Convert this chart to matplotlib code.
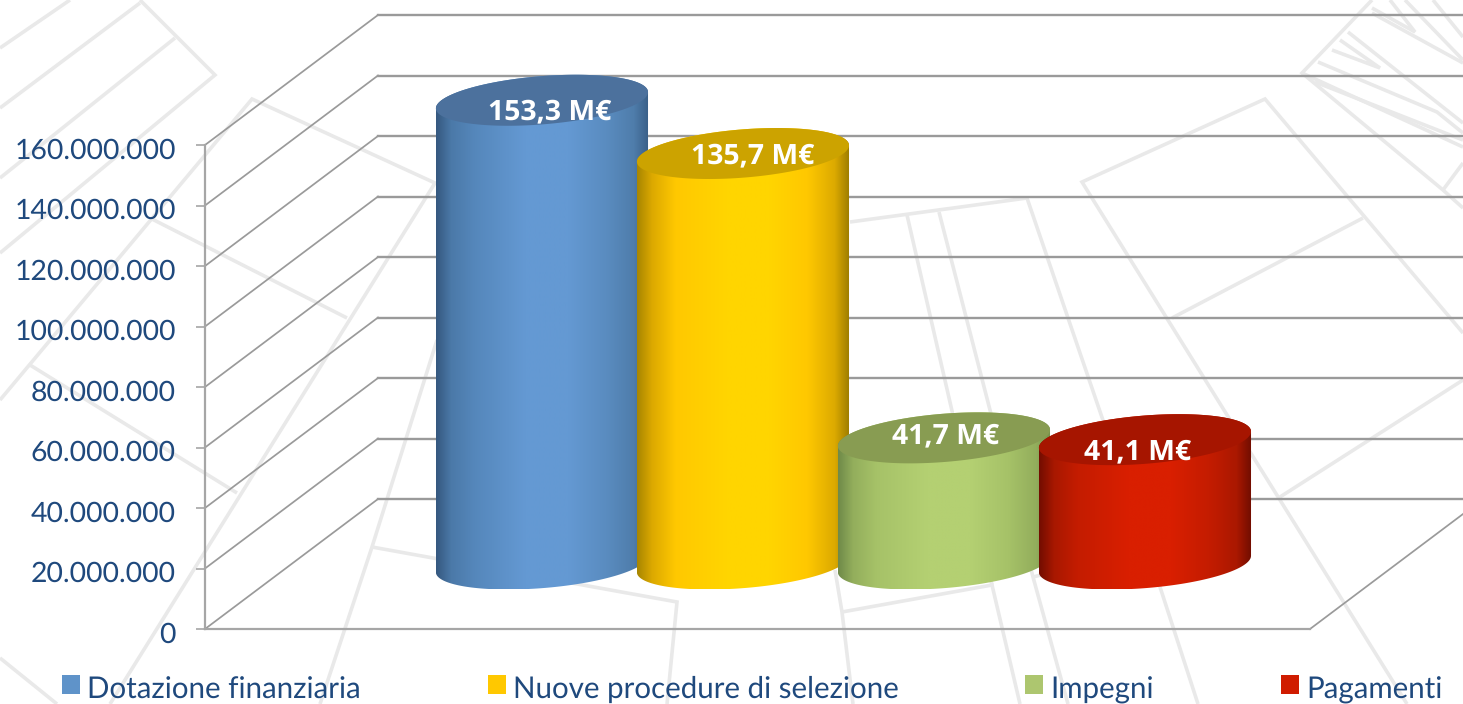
import numpy as np
import matplotlib
matplotlib.use("Agg")
import matplotlib.pyplot as plt
from matplotlib.colors import LinearSegmentedColormap
from matplotlib.legend_handler import HandlerPatch
from matplotlib.patches import Patch, Polygon, Rectangle
from matplotlib.transforms import ScaledTranslation

# ---------- data ----------
series_names = ["Dotazione finanziaria", "Nuove procedure di selezione", "Impegni", "Pagamenti"]
series_values = [153.3e6, 135.7e6, 41.7e6, 41.1e6]
y_ticks = [0, 20000000, 40000000, 60000000, 80000000, 100000000, 120000000, 140000000, 160000000]

# ---------- style ----------
legend_colors = ["#5f93c9", "#ffc800", "#adc66f", "#d01c00"]
top_colors = ["#4c719d", "#cca300", "#889c52", "#a61500"]
gradient_stops = [0, 0.07, 0.18, 0.42, 0.62, 0.8, 0.93, 1]
gradients = [
    ["#35587f", "#4b79a8", "#5587bb", "#6499d3", "#6499d3", "#5a8cc0", "#4f7dab", "#3a5f88"],
    ["#a88600", "#dca900", "#ffc800", "#ffd500", "#ffd500", "#ffc800", "#dcaa00", "#9c7c00"],
    ["#6f8a49", "#93ae5c", "#a6c268", "#b4d072", "#b4d072", "#a6c268", "#93ae5c", "#76904c"],
    ["#730d00", "#a81800", "#c41c00", "#d91f00", "#d91f00", "#c41c00", "#aa1800", "#700d00"],
]
label_offsets_px = [(8, -12), (10, -3), (2, 2), (-7, -12)]
TEXT = "#1f497d"
GRID = "#9a9a9a"
WATER = "#e9e9e9"
W, H = 1463, 704
PXL, PXR, PXT, PXB = 205, 1310, 145, 629
plt.rcParams["font.family"] = ["Lato", "DejaVu Sans"]
plt.rcParams["text.hinting"] = "no_hinting"

fig = plt.figure(figsize=(W / 100, H / 100), dpi=100, facecolor="white")

# ---------- faint decorative background, in pixel coordinates ----------
bg = fig.add_axes([0, 0, 1, 1], zorder=0)
bg.set_xlim(0, W)
bg.set_ylim(H, 0)
bg.axis("off")
watermark = [
    [(0, 48), (70, 0)], [(0, 108), (140, 3)], [(140, 0), (215, 75), (0, 253)], [(175, 38), (0, 178)],
    [(0, 400), (252, 99), (435, 183), (110, 704)], [(150, 218), (347, 318)], [(30, 365), (237, 493)],
    [(0, 658), (57, 704)], [(437, 340), (372, 547), (320, 704)], [(372, 547), (677, 602), (667, 704)],
    [(835, 570), (842, 612), (853, 704)], [(842, 612), (992, 585), (1020, 704)],
    [(907, 215), (992, 585)], [(939, 212), (1033, 577), (1068, 704)], [(1033, 577), (1045, 574)],
    [(850, 222), (1027, 198), (1161, 590), (1198, 704)],
    [(1463, 333), (1265, 99), (1082, 182), (1407, 704)], [(1172, 318), (1363, 218)],
    [(1280, 497), (1463, 380)],
    [(1372, 0), (1302, 73), (1443, 190), (1463, 208)], [(1443, 190), (1463, 163)],
    [(1318, 62), (1437, 112), (1463, 133)], [(1302, 73), (1463, 147)], [(1315, 82), (1463, 140)],
    [(1332, 50), (1380, 68), (1340, 40)], [(1348, 32), (1463, 123)],
    [(1372, 8), (1415, 32), (1390, 0)], [(1372, 13), (1463, 63)], [(1405, 0), (1463, 60)],
    [(1433, 0), (1463, 37)],
]
for seg in watermark:
    xs, ys = zip(*seg)
    bg.plot(xs, ys, color=WATER, lw=2.6, solid_joinstyle="miter", solid_capstyle="butt")

# ---------- main axes: the front plane of the 3-D box ----------
ax = fig.add_axes([PXL / W, 1 - PXB / H, (PXR - PXL) / W, (PXB - PXT) / H], zorder=1)
ax.patch.set_visible(False)
px_per_unit = 201.0
ax.set_xlim(-1.246, (PXR - PXL) / px_per_unit - 1.246)
ax.set_ylim(0, 160e6)
euro_per_px = 160e6 / (PXB - PXT)
DX = 173 / px_per_unit      # x shift of the back plane
DY = 130 * euro_per_px      # y shift of the back plane
X0, X1 = ax.get_xlim()


def project(x, y, z):
    return np.asarray(x) + np.asarray(z) * DX, np.asarray(y) + np.asarray(z) * DY


# walls and floor
far_right = X1 + (W - PXR) / px_per_unit
for v in y_ticks:
    xs, ys = project([X0, X0], [v, v], [0, 1])
    ax.plot(xs, ys, color=GRID, lw=1.25, clip_on=False, zorder=1)
    bx, by = project(X0, v, 1)
    ax.plot([bx, far_right], [by, by], color=GRID, lw=1.7, clip_on=False, zorder=1)
xs, ys = project([X1, X1], [0, 0], [0, 1])
ax.plot(xs, ys, color=GRID, lw=1.25, clip_on=False, zorder=1)

for side in ("top", "right"):
    ax.spines[side].set_visible(False)
for side in ("left", "bottom"):
    ax.spines[side].set_color("#a6a6a6")
    ax.spines[side].set_linewidth(1.6)
ax.set_xticks([])
ax.set_yticks(y_ticks)
ax.set_yticklabels([f"{v:,}".replace(",", ".") for v in y_ticks])
ax.tick_params(axis="y", length=6.5, width=1.2, color="#a6a6a6", pad=14.5, labelsize=20.4, labelcolor=TEXT)
for lab in ax.get_yticklabels():
    lab.set_transform(lab.get_transform() + ScaledTranslation(0, -3 / 100, fig.dpi_scale_trans))

# cylinders
RX, RZ = 0.5, 25.5 / 130
t0 = np.arctan2(RZ * DX, RX)   # angle of the right silhouette point
for i, value in enumerate(series_values):
    z_order = 3 + i
    front = np.linspace(t0 - np.pi, t0, 90)
    back = np.linspace(t0, t0 + np.pi, 90)
    bx, by = project(i + RX * np.cos(front), 0, 0.5 + RZ * np.sin(front))
    tx, ty = project(i + RX * np.cos(back), value, 0.5 + RZ * np.sin(back))
    outline = np.column_stack([np.r_[bx, tx], np.r_[by, ty]])
    clip = Polygon(outline, closed=True, transform=ax.transData, fc="none", ec="none")
    ax.add_patch(clip)
    clip.set_clip_on(False)
    cmap = LinearSegmentedColormap.from_list(f"c{i}", list(zip(gradient_stops, gradients[i])))
    im = ax.imshow(np.linspace(0, 1, 256)[None, :], cmap=cmap, aspect="auto", interpolation="bilinear",
                   extent=(outline[:, 0].min(), outline[:, 0].max(), outline[:, 1].min(), outline[:, 1].max()),
                   origin="lower", zorder=z_order)
    im.set_clip_box(fig.bbox)
    im.set_clip_path(clip)
    ts = np.linspace(0, 2 * np.pi, 181)
    ex, ey = project(i + RX * np.cos(ts), value, 0.5 + RZ * np.sin(ts))
    ax.fill(ex, ey, color=top_colors[i], lw=0, zorder=z_order, clip_on=False)
    cx, cy = project(i, value, 0.5)
    ox, oy = label_offsets_px[i]
    ax.annotate(f"{value / 1e6:.1f}".replace(".", ",") + " M€", xy=(cx, cy),
                xytext=(ox * 0.72, oy * 0.72), textcoords="offset points",
                ha="center", va="center", color="white", fontsize=20.4, fontweight="bold",
                family=["Open Sans", "DejaVu Sans"], zorder=20, annotation_clip=False)

ax.set_xlim(X0, X1)
ax.set_ylim(0, 160e6)


# legend
def lifted_square(legend, orig_handle, xdescent, ydescent, width, height, fontsize):
    return Rectangle((-xdescent, -ydescent + 2.2), width, height)


handles = [Patch(fc=c, ec="none") for c in legend_colors]
ax.legend(handles, series_names, ncol=4, frameon=False, fontsize=21.25, labelcolor=TEXT,
          handler_map={Patch: HandlerPatch(patch_func=lifted_square)},
          loc="center left", bbox_to_anchor=(62 / W, 1 - 690 / H), bbox_transform=fig.transFigure,
          borderaxespad=0, borderpad=0, handlelength=0.61, handleheight=0.61, handletextpad=0.24,
          columnspacing=4.3)

fig.savefig("out.png", dpi=100, facecolor="white")
